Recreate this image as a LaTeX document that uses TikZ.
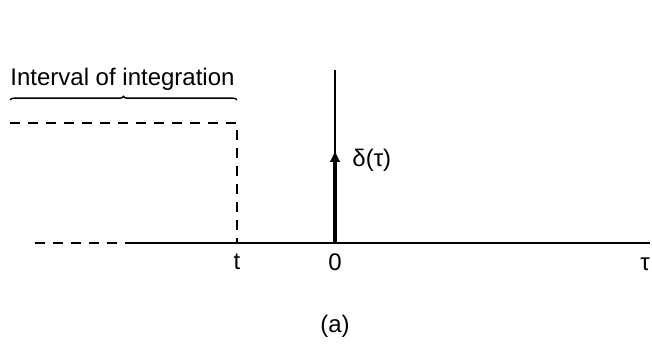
\documentclass[tikz,border=0pt]{standalone}
\usepackage{fontspec}
\setmainfont{Liberation Sans}
\usepackage{tikz}
\usetikzlibrary{
  arrows.meta,
  decorations.pathreplacing
}
\tikzset{
  axisline/.style = {draw=black, line width=1pt},
  guide/.style = {draw=black, line width=0.7pt, dash pattern=on 5pt off 4pt},
  impulse/.style = {-{Latex[length=6pt,width=5.5pt]}, draw=black, line width=1.8pt},
  bracebar/.style = {draw=black, line width=0.7pt, decorate,
    decoration={brace, amplitude=1.8pt}},
  lbl/.style = {font=\fontsize{12}{14}\selectfont, inner sep=1pt},
}

\begin{document}
\begin{tikzpicture}[x=0.5pt, y=-0.5pt]
  \useasboundingbox (0,0) rectangle (652,352);

  %% reference points
  \coordinate (axstart) at (35,243);
  \coordinate (axsolid) at (133,243);
  \coordinate (axend)   at (650,243);
  \coordinate (origin)  at (335,243);
  \coordinate (vtop)    at (335,70);
  \coordinate (ptop)    at (335,150);
  \coordinate (tpt)     at (237,243);
  \coordinate (tcorner) at (237,123);
  \coordinate (hleft)   at (10,123);
  \coordinate (bleft)   at (10,100);
  \coordinate (bright)  at (237,100);

  %% labels
  \node[lbl, anchor=base west] (title) at (8,86) {Interval of integration};
  \node[lbl] (tlab)   at (237,262) {t};
  \node[lbl] (zlab)   at (335,262) {0};
  \node[lbl] (taulab) at (645,264) {τ};
  \node[lbl, anchor=west] (dlab) at (350,160) {δ(τ)};
  \node[lbl] (cap) at (335,326) {(a)};

  %% axes
  \draw[guide] (axstart) -- (axsolid);
  \draw[axisline] (axsolid) -- (axend);
  \draw[axisline, line width=0.8pt] (vtop) -- (origin);

  %% integration window
  \draw[guide] (hleft) -- (tcorner) -- (tpt);
  \draw[bracebar] (bleft) -- (bright);

  %% delta
  \draw[impulse] (origin) -- (ptop);

\end{tikzpicture}
\end{document}
